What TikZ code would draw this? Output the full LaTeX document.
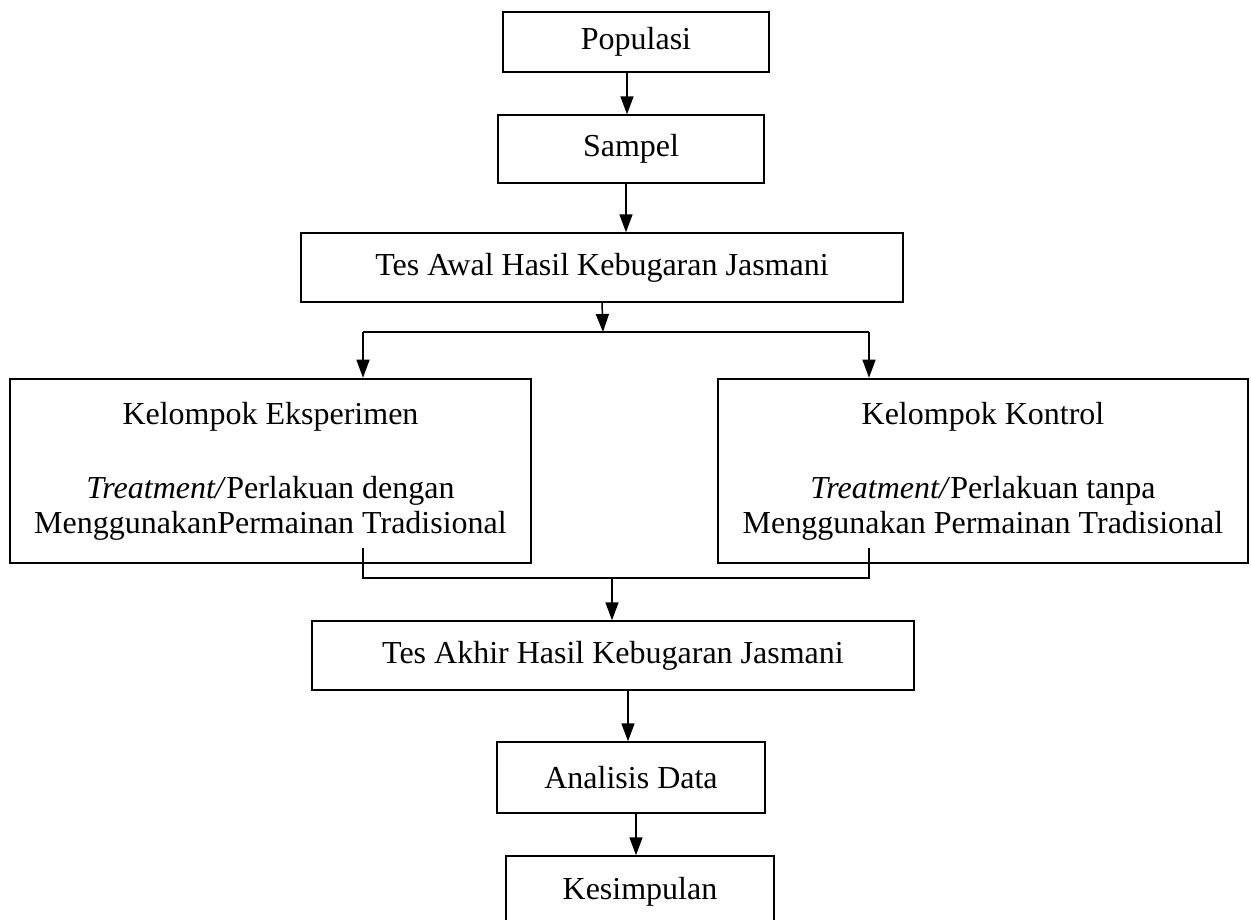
\documentclass[tikz,border=0pt]{standalone}
\usepackage{fontspec}
\setmainfont{Liberation Serif}
\usetikzlibrary{arrows.meta}

\tikzset{
  kotak/.style={draw, line width=1.4pt, inner sep=0pt, align=center},
  kotaktebal/.style={kotak, line width=2.6pt},
  panah/.style={-{Triangle[length=18pt,width=13pt]}, line width=1.5pt},
  garis/.style={line width=1.5pt}
}

\begin{document}
\begin{tikzpicture}[x=1pt,y=-1pt,font=\fontsize{32}{36}\selectfont]
\useasboundingbox (0,0) rectangle (1251,920);
%bagian atas
\node[kotak, minimum width=266pt, minimum height=60pt] (pop) at (636,42) {Populasi};
\node[kotak, minimum width=266pt, minimum height=68pt] (sam) at (631,149) {Sampel};
\node[kotak, minimum width=602pt, minimum height=69pt] (awal) at (602,267.5) {Tes Awal Hasil Kebugaran Jasmani};
%dua kelompok
\node[kotaktebal, minimum width=521pt, minimum height=184pt] (eks) at (270.5,471)
  {Kelompok Eksperimen\\[38pt]\textit{Treatment/}Perlakuan dengan\\[-1pt]MenggunakanPermainan Tradisional};
\node[kotaktebal, minimum width=530pt, minimum height=184pt] (kon) at (983,471)
  {Kelompok Kontrol\\[38pt]\textit{Treatment/}Perlakuan tanpa\\[-1pt]Menggunakan Permainan Tradisional};
%bagian bawah
\node[kotak, minimum width=602pt, minimum height=69pt] (akhir) at (613,655.5) {Tes Akhir Hasil Kebugaran Jasmani};
\node[kotak, minimum width=268pt, minimum height=71pt] (ana) at (631,777.5) {Analisis Data};
\node[kotak, minimum width=268pt, minimum height=71pt] (kes) at (640,891.5) {Kesimpulan};

%titik cabang dan gabung
\coordinate (cabang) at (603,332);
\coordinate (kiri) at (363,332);
\coordinate (kanan) at (869,332);
\coordinate (ujungkiri) at (363,548);
\coordinate (ujungkanan) at (869,548);
\coordinate (gabkiri) at (363,578);
\coordinate (gabkanan) at (869,578);
\coordinate (gabung) at (612,578);

%panah ke bawah
\draw[panah] ([xshift=-9pt]pop.south) -- ([xshift=-9pt]pop.south |- sam.north);
\draw[panah] ([xshift=-5pt]sam.south) -- ([xshift=-5pt]sam.south |- awal.north);
\draw[panah] (awal.south) -- (cabang);

%cabang ke dua kelompok
\draw[garis] (kiri) -- (kanan);
\draw[panah] (kiri) -- (kiri |- eks.north);
\draw[panah] (kanan) -- (kanan |- kon.north);

%dua kelompok digabung lagi
\draw[garis] (ujungkiri) -- (gabkiri) -- (gabkanan) -- (ujungkanan);
\draw[panah] (gabung) -- (gabung |- akhir.north);

\draw[panah] ([xshift=15pt]akhir.south) -- ([xshift=15pt]akhir.south |- ana.north);
\draw[panah] ([xshift=5pt]ana.south) -- ([xshift=5pt]ana.south |- kes.north);
\end{tikzpicture}
\end{document}
